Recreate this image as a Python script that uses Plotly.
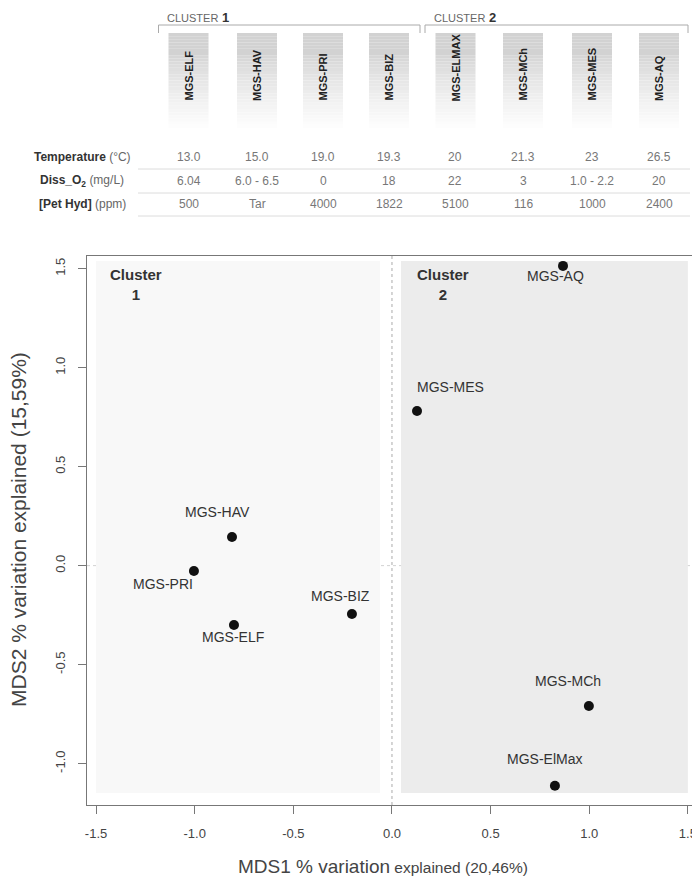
import plotly.graph_objects as go

# ---------------- data ----------------
site_labels = ["MGS-AQ", "MGS-MES", "MGS-HAV", "MGS-PRI", "MGS-ELF", "MGS-BIZ", "MGS-MCh", "MGS-ElMax"]
mds1 = [0.867, 0.127, -0.811, -1.004, -0.801, -0.203, 0.998, 0.826]
mds2 = [1.514, 0.781, 0.145, -0.027, -0.300, -0.244, -0.709, -1.112]

header_sites = ["MGS-ELF", "MGS-HAV", "MGS-PRI", "MGS-BIZ", "MGS-ELMAX", "MGS-MCh", "MGS-MES", "MGS-AQ"]
temperature = ["13.0", "15.0", "19.0", "19.3", "20", "21.3", "23", "26.5"]
diss_o2 = ["6.04", "6.0 - 6.5", "0", "18", "22", "3", "1.0 - 2.2", "20"]
pet_hyd = ["500", "Tar", "4000", "1822", "5100", "116", "1000", "2400"]
row_labels = ["<b>Temperature</b> <span style='color:#666'>(°C)</span>",
              "<b>Diss_O<sub>2</sub></b> <span style='color:#666'>(mg/L)</span>",
              "<b>[Pet Hyd]</b> <span style='color:#666'>(ppm)</span>"]
x_ticks = [-1.5, -1.0, -0.5, 0.0, 0.5, 1.0, 1.5]
y_ticks = [-1.0, -0.5, 0.0, 0.5, 1.0, 1.5]

# ---------------- layout helpers (screen pixel -> paper) ----------------
OFF = 8  # page body margin
W, H = 700 - OFF, 883 - OFF
L, R, T, B = 87 - OFF, 694 - OFF, 256 - OFF, 805 - OFF


def px(x):
    return (x - OFF - L) / (R - L)


def py(y):
    return (B - (y - OFF)) / (B - T)


FONT = "Liberation Sans, Arial, sans-serif"

# label offsets in pixels (dx right, dy down)
label_dx = [-8, 33, -14, -31, -1, -11, -21, -10]
label_dy = [10, -24, -25, 13, 12, -18, -25, -27]

fig = go.Figure()
fig.add_trace(go.Scatter(
    x=mds1, y=mds2, mode="markers",
    marker=dict(color="#111", size=10),
    hoverinfo="text", text=site_labels, showlegend=False,
))

shapes = []
annotations = []


def ann(x, y, text, size, color="#333", **kw):
    d = dict(x=x, y=y, xref="paper", yref="paper", showarrow=False, text=text,
             xanchor="center", yanchor="middle",
             font=dict(family=FONT, size=size, color=color))
    d.update(kw)
    annotations.append(d)


# cluster backgrounds
shapes.append(dict(type="rect", xref="x", yref="y", x0=-1.5, x1=-0.061, y0=-1.148, y1=1.539,
                   fillcolor="#f8f8f8", line=dict(width=0), layer="below"))
shapes.append(dict(type="rect", xref="x", yref="y", x0=0.046, x1=1.5, y0=-1.148, y1=1.539,
                   fillcolor="#ececec", line=dict(width=0), layer="below"))
# zero lines
shapes.append(dict(type="line", xref="x", yref="paper", x0=0, x1=0, y0=0, y1=1,
                   line=dict(color="#aaa", width=1, dash="dot"), layer="below"))
shapes.append(dict(type="line", xref="paper", yref="y", x0=0, x1=1, y0=0, y1=0,
                   line=dict(color="#d2d2d2", width=1, dash="dot"), layer="below"))

# cluster labels in plot
ann(px(136), py(284), "<b>Cluster<br>1</b>", 15, align="center")
ann(px(443), py(284), "<b>Cluster<br>2</b>", 15, align="center")

# point labels
for lab, xv, yv, dx, dy in zip(site_labels, mds1, mds2, label_dx, label_dy):
    annotations.append(dict(x=xv, y=yv, xref="x", yref="y", text=lab, showarrow=False,
                            xanchor="center", yanchor="middle",
                            xshift=dx, yshift=-dy, font=dict(family=FONT, size=14, color="#333")))

# axis titles
ann(px(383), py(866), "<span style='font-size:19px'>MDS1 % variation</span> explained (20,46%)", 15.5, "#444")
ann(px(18), py(530), "MDS2 % variation explained (15,59%)", 21, "#444", textangle=-90)

# ---------------- top table ----------------
col_centers = [188.5, 257, 323, 389, 455.5, 523, 592, 659]
box_w = 40
box_top, box_bot = 33, 128
n_strip = 30
for cx in col_centers:
    for i in range(n_strip):
        t0 = i / n_strip
        y0p = box_top + (box_bot - box_top) * t0
        y1p = box_top + (box_bot - box_top) * (i + 1) / n_strip
        f = max(0.0, (t0 - 0.2) / 0.8) ** 0.8
        g = int(round(210 + (255 - 210) * f))
        col = f"rgb({g},{g},{g})"
        shapes.append(dict(type="rect", xref="paper", yref="paper",
                           x0=px(cx - box_w / 2), x1=px(cx + box_w / 2),
                           y0=py(y1p), y1=py(y0p), fillcolor=col, line=dict(width=0)))
for cx, name in zip(col_centers, header_sites):
    ann(px(cx), py(103), f"<b>{name}</b>", 11, "#222", textangle=-90, yanchor="bottom")

# cluster brackets
for (xa, xb, tx, num) in [(158.5, 420, 165, "1"), (425, 688, 432, "2")]:
    shapes.append(dict(type="path", xref="paper", yref="paper",
                       path=f"M {px(xa)},{py(33)} L {px(xa)},{py(25)} L {px(xb)},{py(25)} L {px(xb)},{py(33)}",
                       line=dict(color="#aaa", width=1)))
    ann(px(tx), py(17), f"<span style='font-size:11px;color:#666'>CLUSTER</span> <b>{num}</b>", 13,
        "#333", xanchor="left")

# table rows
row_y = [157, 181, 204]
sep_y = [169, 193, 216]
for ry, rl, vals in zip(row_y, row_labels, [temperature, diss_o2, pet_hyd]):
    ann(px(82), py(ry), rl, 12, "#333")
    for cx, v in zip(col_centers, vals):
        ann(px(cx), py(ry), v, 12, "#777")
for sy in sep_y:
    shapes.append(dict(type="line", xref="paper", yref="paper", x0=px(138), x1=px(690),
                       y0=py(sy), y1=py(sy), line=dict(color="#dcdcdc", width=1)))

fig.update_layout(
    width=W, height=H,
    margin=dict(l=L, r=W - R, t=T, b=H - B, autoexpand=False),
    paper_bgcolor="white", plot_bgcolor="white",
    shapes=shapes, annotations=annotations,
    xaxis=dict(range=[-1.546, 1.531], tickvals=x_ticks, ticktext=[f"{v:.1f}" for v in x_ticks],
               showgrid=False, zeroline=False, showline=True, mirror=True, linecolor="#777",
               linewidth=1, ticks="outside", ticklen=8, tickcolor="#777", ticklabelstandoff=8,
               tickfont=dict(family=FONT, size=13, color="#444")),
    yaxis=dict(range=[-1.209, 1.564], tickvals=y_ticks, ticktext=[f"{v:.1f}" for v in y_ticks],
               showgrid=False, zeroline=False, showline=True, mirror=True, linecolor="#777",
               linewidth=1, ticks="outside", ticklen=8, tickcolor="#777", tickangle=-90,
               ticklabelstandoff=8, tickfont=dict(family=FONT, size=13, color="#444")),
)

fig.write_html("out.html")
